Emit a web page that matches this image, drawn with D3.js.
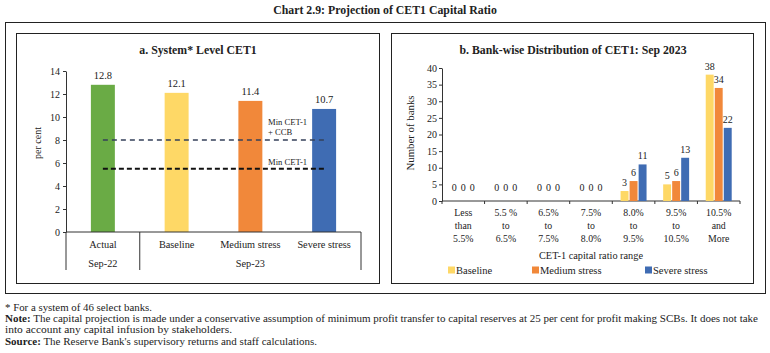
<!DOCTYPE html>
<html>
<head>
<meta charset="utf-8">
<script src="https://cdn.jsdelivr.net/npm/d3@7"></script>
<style>
  body { margin: 0; background: #fff; }
  text { font-family: "Liberation Serif", "DejaVu Serif", serif; fill: #222; }
</style>
</head>
<body>
<div id="chart"></div>
<script>
// panel a data
var sysCats = ["Actual", "Baseline", "Medium stress", "Severe stress"];
var sysValues = [12.8, 12.1, 11.4, 10.7];
var sysColors = ["#6aab45", "#fed866", "#f1883a", "#3f6cb3"];
var sysTicks = [0, 2, 4, 6, 8, 10, 12, 14];
var minCCB = 8;
var minCET = 5.5;

// panel b data
var rangeCats = [["Less", "than", "5.5%"], ["5.5 %", "to", "6.5%"], ["6.5%", "to", "7.5%"],
                 ["7.5%", "to", "8.0%"], ["8.0%", "to", "9.5%"], ["9.5%", "to", "10.5%"], ["10.5%", "and", "More"]];
var scenarios = ["Baseline", "Medium stress", "Severe stress"];
var baseline = [0, 0, 0, 0, 3, 5, 38];
var medium = [0, 0, 0, 0, 6, 6, 34];
var severe = [0, 0, 0, 0, 11, 13, 22];
var bankTicks = [0, 5, 10, 15, 20, 25, 30, 35, 40];
var scenColors = ["#fed866", "#f1883a", "#3f6cb3"];

var width = 770, height = 353;

var svg = d3.select("#chart").append("svg")
  .attr("width", width)
  .attr("height", height);

svg.append("rect").attr("width", width).attr("height", height).attr("fill", "#fff");

// main title
svg.append("text")
  .attr("x", 385).attr("y", 14)
  .attr("text-anchor", "middle")
  .style("font-size", "11.8px").style("font-weight", "bold")
  .text("Chart 2.9: Projection of CET1 Capital Ratio");

// frames
svg.append("rect").attr("x", 5.5).attr("y", 22.5).attr("width", 760).attr("height", 271)
  .attr("fill", "none").attr("stroke", "#222").attr("stroke-width", 1);
svg.append("rect").attr("x", 16.5).attr("y", 33.5).attr("width", 363).attr("height", 250)
  .attr("fill", "none").attr("stroke", "#222").attr("stroke-width", 1);
svg.append("rect").attr("x", 391.5).attr("y", 33.5).attr("width", 362).attr("height", 250)
  .attr("fill", "none").attr("stroke", "#222").attr("stroke-width", 1);

// ---------- panel a ----------
var ga = svg.append("g");

ga.append("text").attr("x", 198).attr("y", 54).attr("text-anchor", "middle")
  .style("font-size", "11.8px").style("font-weight", "bold")
  .text("a. System* Level CET1");

var xa = d3.scaleBand().domain(sysCats).range([66, 361]).paddingInner(0.675).paddingOuter(0.3375);
var ya = d3.scaleLinear().domain([0, 14]).range([232, 71]);

ga.append("g")
  .attr("transform", "translate(66,0)")
  .call(d3.axisLeft(ya).tickValues(sysTicks).tickSize(3).tickSizeOuter(0))
  .call(function(g){
    g.select(".domain").attr("stroke", "#333");
    g.selectAll(".tick line").attr("stroke", "#333");
    g.selectAll(".tick text").attr("x", -6).style("font-size", "10px")
      .style("font-family", "Liberation Serif").attr("fill", "#222");
  });

ga.append("text")
  .attr("transform", "translate(41,143) rotate(-90)")
  .attr("text-anchor", "middle").style("font-size", "10px")
  .text("per cent");

ga.selectAll("rect.bar")
  .data(sysValues)
  .enter()
  .append("rect")
  .attr("class", "bar")
  .attr("x", function(d, i){ return xa(sysCats[i]); })
  .attr("y", function(d){ return ya(d); })
  .attr("width", xa.bandwidth())
  .attr("height", function(d){ return ya(0) - ya(d); })
  .attr("fill", function(d, i){ return sysColors[i]; });

ga.selectAll("text.val")
  .data(sysValues)
  .enter()
  .append("text")
  .attr("class", "val")
  .attr("x", function(d, i){ return xa(sysCats[i]) + xa.bandwidth() / 2; })
  .attr("y", function(d){ return ya(d) - 6; })
  .attr("text-anchor", "middle").style("font-size", "10.5px")
  .text(function(d){ return d.toFixed(1); });

// x axis line and group separators
ga.append("line").attr("x1", 66).attr("x2", 361).attr("y1", ya(0)).attr("y2", ya(0))
  .attr("stroke", "#333");
var seps = [66, xa("Baseline") - xa.step() * xa.paddingInner() / 2, 361];
ga.selectAll("line.sep")
  .data(seps)
  .enter()
  .append("line")
  .attr("class", "sep")
  .attr("x1", function(d){ return d; }).attr("x2", function(d){ return d; })
  .attr("y1", ya(0)).attr("y2", 270)
  .attr("stroke", "#333");

ga.selectAll("text.cat")
  .data(sysCats)
  .enter()
  .append("text")
  .attr("class", "cat")
  .attr("x", function(d){ return xa(d) + xa.bandwidth() / 2; })
  .attr("y", 248)
  .attr("text-anchor", "middle").style("font-size", "10.3px")
  .text(function(d){ return d; });

ga.append("text").attr("x", (seps[0] + seps[1]) / 2).attr("y", 267)
  .attr("text-anchor", "middle").style("font-size", "10.3px").text("Sep-22");
ga.append("text").attr("x", (seps[1] + seps[2]) / 2).attr("y", 267)
  .attr("text-anchor", "middle").style("font-size", "10.3px").text("Sep-23");

// reference lines
var xStart = xa(sysCats[0]) + xa.bandwidth() / 2;
var xEnd = xa(sysCats[3]) + xa.bandwidth() / 2;
ga.append("line").attr("x1", xStart).attr("x2", xEnd)
  .attr("y1", ya(minCCB)).attr("y2", ya(minCCB))
  .attr("stroke", "#34405a").attr("stroke-width", 1.6).attr("stroke-dasharray", "5,4");
ga.append("line").attr("x1", xStart).attr("x2", xEnd)
  .attr("y1", ya(minCET)).attr("y2", ya(minCET))
  .attr("stroke", "#111").attr("stroke-width", 2).attr("stroke-dasharray", "5,3");

ga.append("text").attr("x", 268).attr("y", ya(minCCB) - 15).style("font-size", "8.6px").text("Min CET-1");
ga.append("text").attr("x", 268).attr("y", ya(minCCB) - 5).style("font-size", "8.6px").text("+ CCB");
ga.append("text").attr("x", 268).attr("y", ya(minCET) - 4).style("font-size", "8.6px").text("Min CET-1");

// ---------- panel b ----------
var gb = svg.append("g");

gb.append("text").attr("x", 573).attr("y", 54).attr("text-anchor", "middle")
  .style("font-size", "11.8px").style("font-weight", "bold")
  .text("b. Bank-wise Distribution of CET1: Sep 2023");

var rangeKeys = rangeCats.map(function(d){ return d.join(" "); });
var x0 = d3.scaleBand().domain(rangeKeys).range([442, 740]).paddingInner(0.39).paddingOuter(0.195);
var x1 = d3.scaleBand().domain(scenarios).range([0, x0.bandwidth()]).paddingInner(0.12);
var yb = d3.scaleLinear().domain([0, 40]).range([201, 68]);

gb.append("g")
  .attr("transform", "translate(442,0)")
  .call(d3.axisLeft(yb).tickValues(bankTicks).tickSize(3).tickSizeOuter(0))
  .call(function(g){
    g.select(".domain").attr("stroke", "#333");
    g.selectAll(".tick line").attr("stroke", "#333");
    g.selectAll(".tick text").attr("x", -5).style("font-size", "10px")
      .style("font-family", "Liberation Serif").attr("fill", "#222");
  });

gb.append("text")
  .attr("transform", "translate(414,133) rotate(-90)")
  .attr("text-anchor", "middle").style("font-size", "10.8px")
  .text("Number of banks");

// x axis with boundary ticks
gb.append("line").attr("x1", 442).attr("x2", 740).attr("y1", yb(0)).attr("y2", yb(0)).attr("stroke", "#333");
var bounds = d3.range(rangeKeys.length + 1).map(function(i){ return 442 + i * x0.step(); });
gb.selectAll("line.btick")
  .data(bounds)
  .enter()
  .append("line")
  .attr("class", "btick")
  .attr("x1", function(d){ return d; }).attr("x2", function(d){ return d; })
  .attr("y1", yb(0)).attr("y2", yb(0) + 3)
  .attr("stroke", "#333");

var series = [baseline, medium, severe];
var groups = gb.selectAll("g.series")
  .data(series)
  .enter()
  .append("g")
  .attr("class", "series");

groups.selectAll("rect")
  .data(function(d, si){ return d.map(function(v, ci){ return {v: v, s: si, c: ci}; }); })
  .enter()
  .append("rect")
  .attr("x", function(d){ return x0(rangeKeys[d.c]) + x1(scenarios[d.s]); })
  .attr("y", function(d){ return yb(d.v); })
  .attr("width", x1.bandwidth())
  .attr("height", function(d){ return yb(0) - yb(d.v); })
  .attr("fill", function(d){ return scenColors[d.s]; });

groups.selectAll("text")
  .data(function(d, si){ return d.map(function(v, ci){ return {v: v, s: si, c: ci}; }); })
  .enter()
  .append("text")
  .attr("x", function(d){ return x0(rangeKeys[d.c]) + x1(scenarios[d.s]) + x1.bandwidth() / 2; })
  .attr("y", function(d){ return yb(d.v) - (d.v === 0 ? 10 : 5); })
  .attr("text-anchor", "middle").style("font-size", "10px")
  .text(function(d){ return d.v; });

rangeCats.forEach(function(lines, i){
  var t = gb.append("text")
    .attr("x", x0(rangeKeys[i]) + x0.bandwidth() / 2)
    .attr("y", 216)
    .attr("text-anchor", "middle").style("font-size", "9.8px");
  lines.forEach(function(l, j){
    t.append("tspan").attr("x", x0(rangeKeys[i]) + x0.bandwidth() / 2)
      .attr("dy", j === 0 ? 0 : 13.2).text(l);
  });
});

gb.append("text").attr("x", 591).attr("y", 259).attr("text-anchor", "middle")
  .style("font-size", "10.3px").text("CET-1 capital ratio range");

var legX = [448, 532, 645];
var legend = gb.selectAll("g.leg")
  .data(scenarios)
  .enter()
  .append("g")
  .attr("class", "leg")
  .attr("transform", function(d, i){ return "translate(" + legX[i] + ",270)"; });
legend.append("rect").attr("x", 0).attr("y", -3.5).attr("width", 7).attr("height", 7)
  .attr("fill", function(d, i){ return scenColors[i]; });
legend.append("text").attr("x", 8).attr("y", 3.5).style("font-size", "10.5px")
  .text(function(d){ return d; });

// ---------- footnotes ----------
var notes = svg.append("g").style("font-size", "9.5px");
notes.append("text").attr("x", 5).attr("y", 311)
  .attr("textLength", 147).attr("lengthAdjust", "spacingAndGlyphs")
  .text("* For a system of 46 select banks.");
var n2 = notes.append("text").attr("x", 5).attr("y", 322)
  .attr("textLength", 753).attr("lengthAdjust", "spacingAndGlyphs");
n2.append("tspan").style("font-weight", "bold").text("Note:");
n2.append("tspan").text(" The capital projection is made under a conservative assumption of minimum profit transfer to capital reserves at 25 per cent for profit making SCBs. It does not take");
notes.append("text").attr("x", 5).attr("y", 332.5)
  .attr("textLength", 227).attr("lengthAdjust", "spacingAndGlyphs")
  .text("into account any capital infusion by stakeholders.");
var n4 = notes.append("text").attr("x", 5).attr("y", 344.5)
  .attr("textLength", 312).attr("lengthAdjust", "spacingAndGlyphs");
n4.append("tspan").style("font-weight", "bold").text("Source:");
n4.append("tspan").text(" The Reserve Bank's supervisory returns and staff calculations.");
</script>
</body>
</html>
